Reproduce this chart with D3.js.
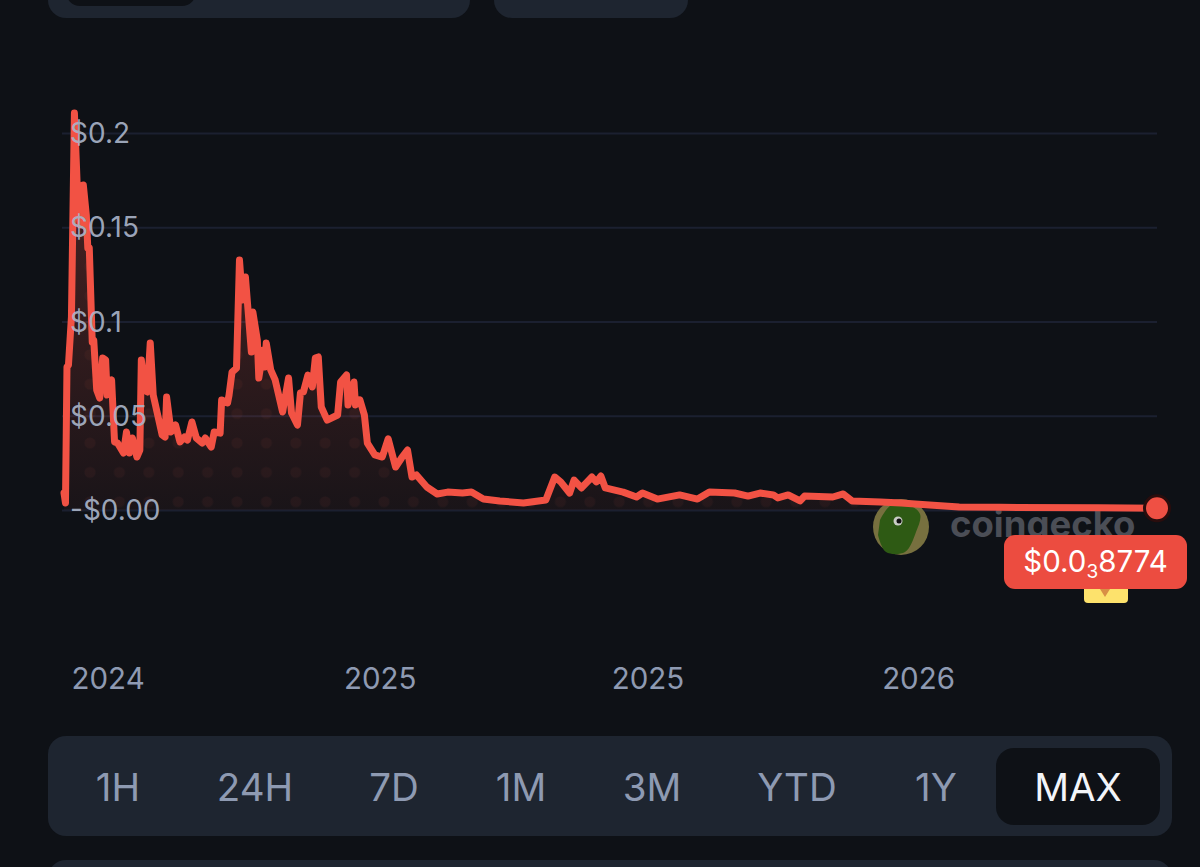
<!DOCTYPE html>
<html>
<head>
<meta charset="utf-8">
<script src="https://cdn.jsdelivr.net/npm/d3@7/dist/d3.min.js"></script>
<style>
html,body{margin:0;padding:0;background:#0e1116;overflow:hidden}
svg{display:block}
text{font-family:Inter,"Liberation Sans",sans-serif}
</style>
</head>
<body>
<div id="chart"></div>
<script>
const days = [0,1,2,3,5,7,9,11,13,15,16,17,19,20,22,24,26,28,29,32,34,36,40,42,44,46,49,51,52,54,56,58,60,66,68,69,72,75,78,81,83,86,89,93,95,99,101,105,106,110,111,113,116,118,120,122,126,127,130,131,134,135,136,139,142,147,151,153,157,159,161,164,167,169,171,173,177,184,186,190,191,195,196,199,202,204,209,214,218,223,227,231,234,237,244,251,258,268,274,282,293,309,324,330,334,340,343,348,355,358,361,364,376,385,389,399,414,426,434,451,460,468,477,480,487,495,498,517,524,530,549,563,582,602,629,696,735];
const prices = [.0090,.0037,.0759,.0769,.1024,.2106,.1698,.1512,.1724,.1565,.1390,.1390,.0891,.0902,.0637,.0594,.0806,.0796,.0610,.0690,.0361,.0355,.0302,.0414,.0302,.0382,.0281,.0318,.0796,.0637,.0626,.0886,.0610,.0398,.0387,.0599,.0414,.0451,.0361,.0387,.0371,.0467,.0382,.0355,.0382,.0334,.0414,.0408,.0584,.0568,.0610,.0732,.0753,.1326,.1114,.1236,.0838,.1050,.0902,.0700,.0849,.0759,.0886,.0743,.0690,.0520,.0700,.0515,.0451,.0621,.0626,.0716,.0653,.0806,.0812,.0546,.0477,.0504,.0679,.0716,.0557,.0679,.0557,.0584,.0504,.0355,.0292,.0281,.0377,.0228,.0276,.0318,.0175,.0186,.0122,.0085,.0095,.0090,.0095,.0058,.0048,.0037,.0053,.0175,.0149,.0090,.0159,.0117,.0175,.0149,.0180,.0117,.0095,.0069,.0090,.0058,.0080,.0058,.0095,.0090,.0074,.0090,.0080,.0064,.0080,.0048,.0074,.0069,.0085,.0048,.0042,.0037,.0027,.0016,.0014,.0012,.0008774];
const yTicks = [0,.05,.1,.15,.2];
const yLabels = ["-$0.00","$0.05","$0.1","$0.15","$0.2"];
const xTicks = [30,213,393,575];
const xLabels = ["2024","2025","2025","2026"];
const ranges = ["1H","24H","7D","1M","3M","YTD","1Y","MAX"];
const rangeCenters = [118,255,394,521,652,797,936,1078];

const W = 1200, H = 867;
const bg = "#0e1116";
const x = d3.scaleLinear().domain([0,735]).range([64,1157]);
const y = d3.scaleLinear().domain([0,.2]).range([510,133]);
const pts = days.map((d,i)=>[d,prices[i]]);

const svg = d3.select("#chart").append("svg").attr("width",W).attr("height",H);
svg.append("rect").attr("width",W).attr("height",H).attr("fill",bg);

// surrounding interface panels
const panel = "#1e2530";
svg.append("rect").attr("x",48).attr("y",-40).attr("width",422).attr("height",58).attr("rx",18).attr("fill",panel);
svg.append("rect").attr("x",66).attr("y",-40).attr("width",130).attr("height",46).attr("rx",14).attr("fill",bg);
svg.append("rect").attr("x",494).attr("y",-40).attr("width",194).attr("height",58).attr("rx",18).attr("fill",panel);
svg.append("rect").attr("x",48).attr("y",736).attr("width",1124).attr("height",100).attr("rx",18).attr("fill",panel);
svg.append("rect").attr("x",48).attr("y",860).attr("width",1124).attr("height",60).attr("rx",18).attr("fill",panel);
svg.append("rect").attr("x",996).attr("y",748).attr("width",164).attr("height",77).attr("rx",18).attr("fill",bg);

const defs = svg.append("defs");
const grad = defs.append("linearGradient").attr("id","fade").attr("x1",0).attr("x2",0).attr("y1",0).attr("y2",1);
grad.append("stop").attr("offset","0%").attr("stop-color","#f25244").attr("stop-opacity",.3);
grad.append("stop").attr("offset","100%").attr("stop-color","#f25244").attr("stop-opacity",.05);
const pat = defs.append("pattern").attr("id","dots").attr("patternUnits","userSpaceOnUse")
  .attr("width",29.4).attr("height",29.4).attr("x",222.3).attr("y",428.3);
pat.append("circle").attr("cx",14.7).attr("cy",14.7).attr("r",5.5).attr("fill","#f25244").attr("opacity",.055);

// y axis: grid lines and labels
const yAxis = d3.axisLeft(y).tickValues(yTicks).tickSize(-1095)
  .tickFormat((d,i)=>yLabels[i]);
const gy = svg.append("g").attr("transform","translate(62,0)").call(yAxis);
gy.select(".domain").remove();
gy.selectAll("line").attr("stroke","#1b2030").attr("stroke-width",2);
gy.selectAll("text").remove();

// area and line
const area = d3.area().x(d=>x(d[0])).y0(y(0)).y1(d=>y(d[1]));
const line = d3.line().x(d=>x(d[0])).y(d=>y(d[1]));
svg.append("path").datum(pts).attr("d",area).attr("fill","url(#fade)");
svg.append("path").datum(pts).attr("d",area).attr("fill","url(#dots)");

// watermark
const wm = svg.append("g");
wm.append("circle").attr("cx",901).attr("cy",527).attr("r",28).attr("fill","#77703f");
wm.append("path").attr("fill","#2e5a14")
  .attr("d",d3.line().curve(d3.curveCatmullRom)([[880,520],[890,506],[906,504],[920,514],[916,532],[905,552],[886,552],[878,535]]));
wm.append("circle").attr("cx",898).attr("cy",521).attr("r",4.5).attr("fill","#c9ccc5");
wm.append("circle").attr("cx",899).attr("cy",521).attr("r",2.5).attr("fill","#111");
wm.append("text").attr("x",950).attr("y",537).attr("font-size",36.5).attr("font-weight",700)
  .attr("fill","#4b4e56").text("coingecko");

svg.append("path").datum(pts).attr("d",line).attr("fill","none")
  .attr("stroke","#f25244").attr("stroke-width",7).attr("stroke-linejoin","round").attr("stroke-linecap","round");

// y labels drawn over the line
svg.append("g").selectAll("text").data(yTicks).join("text")
  .attr("x",70).attr("y",d=>y(d)+10).attr("font-size",28).attr("fill","#a9b4c8").attr("fill-opacity",.92)
  .text((d,i)=>yLabels[i]);

// x axis labels
const xAxis = d3.axisBottom(x).tickValues(xTicks).tickSize(0).tickFormat((d,i)=>xLabels[i]);
const gx = svg.append("g").attr("transform","translate(-1,660)").call(xAxis);
gx.select(".domain").remove();
gx.selectAll("text").attr("font-size",29.5).attr("fill","#8e9ab2").attr("font-family","Inter,sans-serif").attr("dy",0).attr("y",29);

// last price marker
const last = pts[pts.length-1];
svg.append("rect").attr("x",1084).attr("y",575).attr("width",44).attr("height",28).attr("rx",4).attr("fill","#fde26c");
svg.append("path").attr("d","M1100 589 L1110 589 L1105 597 Z").attr("fill","#d98f45");
svg.append("rect").attr("x",1004).attr("y",535).attr("width",183).attr("height",54).attr("rx",11).attr("fill","#ec4c40");
const lbl = svg.append("text").attr("x",1095.5).attr("y",572).attr("text-anchor","middle").attr("font-size",29.5).attr("fill","#fff");
lbl.append("tspan").text("$0.0");
lbl.append("tspan").attr("font-size",19).attr("dy",6).text("3");
lbl.append("tspan").attr("dy",-6).text("8774");
svg.append("circle").attr("cx",x(last[0])).attr("cy",y(last[1])).attr("r",12.5)
  .attr("fill","#ef5044").attr("stroke","#2a0d0d").attr("stroke-width",3);

// range buttons
svg.append("g").selectAll("text").data(ranges).join("text")
  .attr("x",(d,i)=>rangeCenters[i]).attr("y",801).attr("text-anchor","middle").attr("font-size",38.5)
  .attr("fill",d=>d==="MAX"?"#f3f5f9":"#8e9ab2").text(d=>d);
</script>
</body>
</html>
